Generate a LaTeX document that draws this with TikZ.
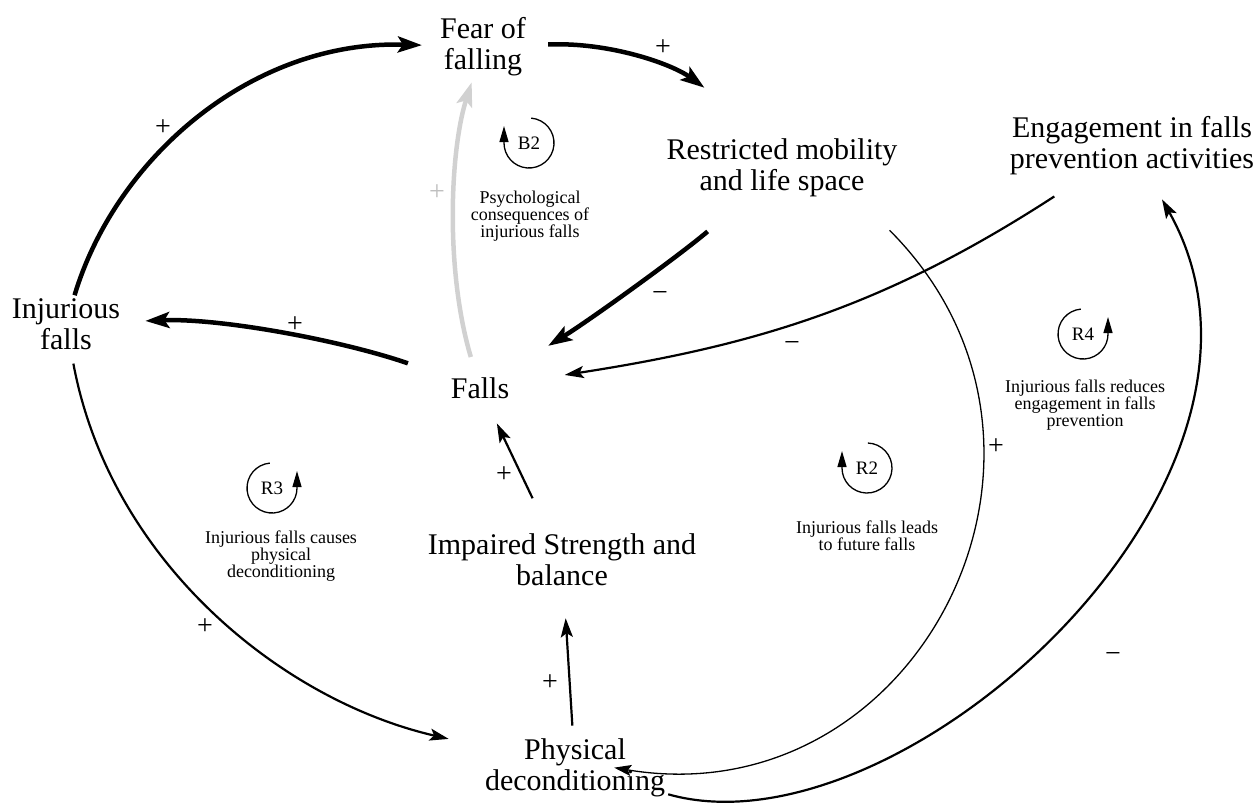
\documentclass[tikz,border=0pt]{standalone}
\usepackage{fontspec}
\setmainfont{Liberation Serif}
\usetikzlibrary{arrows.meta}

\begin{document}
\begin{tikzpicture}[x=1pt, y=-1pt,
    var/.style={align=center, inner sep=3pt, font=\fontsize{30}{31}\selectfont},
    note/.style={align=center, inner sep=1pt, font=\fontsize{18}{17}\selectfont},
    sign/.style={inner sep=0pt, font=\fontsize{28}{28}\selectfont},
    loopid/.style={inner sep=0pt, font=\fontsize{19}{19}\selectfont},
    strong/.style={line width=4.5pt, -{Stealth[length=24pt, width=16pt, inset=5pt]}},
    plain/.style={line width=2.2pt, -{Stealth[length=19pt, width=12pt, inset=4pt]}},
    faint/.style={line width=1.3pt, -{Stealth[length=17pt, width=11pt, inset=3pt]}},
    loopline/.style={line width=1.3pt, -{Triangle[length=16pt, width=9pt]}}]
    \useasboundingbox (0,0) rectangle (1257,807);

    \node[var] (1) at (483,47) {Fear of\\falling};
    \node[var] (2) at (782,168) {Restricted mobility\\and life space};
    \node[var] (3) at (1132,146) {Engagement in falls\\prevention activities};
    \node[var] (4) at (66,324) {Injurious\\falls};
    \node[var] (5) at (480,388) {Falls};
    \node[var] (6) at (562,560) {Impaired Strength and\\balance};
    \node[var] (7) at (575,768) {Physical\\deconditioning};

    % loop markers
    \foreach \n/\x/\y/\a/\b in {B2/529/143/85/-180, R3/272/488/95/360, R2/867/468/88/-180, R4/1083/334/95/360} {
        \node[loopid] (\n) at (\x,\y) {\n};
        \draw[loopline] ([shift={(\a:25pt)}]\n.center) arc[start angle=\a, end angle=\b, radius=25pt] -- ++(0,-17);
    }
    \node[note] (nB2) at (530,216) {Psychological\\consequences of\\injurious falls};
    \node[note] (nR3) at (281,556) {Injurious falls causes\\physical\\deconditioning};
    \node[note] (nR2) at (867,536) {Injurious falls leads\\to future falls};
    \node[note] (nR4) at (1085,405) {Injurious falls reduces\\engagement in falls\\prevention};

    \draw[strong, shorten >=15pt] (4) .. controls (115,160) and (250,40) .. (1);
    \draw[strong, shorten <=19pt] (1) .. controls (610,42) and (672,64) .. ([shift={(41,-48)}]2.north west);
    \draw[strong, draw=black!18, shorten <=18pt, shorten >=3pt] (5) .. controls (445,270) and (450,150) .. (1);
    \draw[strong, shorten <=48pt, shorten >=54pt] (2) .. controls (680,255) and (590,320) .. (5);
    \draw[strong, shorten <=42pt, shorten >=22pt] (5) .. controls (340,340) and (220,318) .. (4);
    \draw[plain, shorten <=33pt, shorten >=53pt] (3) .. controls (887,305) and (759,345) .. (5);
    \draw[plain, shorten <=36pt, shorten >=24pt] (6) -- (5);
    \draw[plain, shorten <=10pt, shorten >=29pt] (7) -- (6);
    \draw[plain, shorten <=11pt, shorten >=34pt] (4) .. controls (110,560) and (280,700) .. (7);
    \draw[faint] ([shift={(-11,30)}]2.south east) .. controls (1107,448) and (919,818) .. ([shift={(-54,32)}]7.north east);
    \draw[plain, shorten >=24pt] (7) .. controls (900,860) and (1320,480) .. (3);

    \node[sign] (p1) at (163,128) {+};
    \node[sign] (p2) at (663,48) {+};
    \node[sign, black!25] (p3) at (437,193) {+};
    \node[sign] (m1) at (660,296) {−};
    \node[sign] (p4) at (295,325) {+};
    \node[sign] (m2) at (792,346) {−};
    \node[sign] (p5) at (504,475) {+};
    \node[sign] (p6) at (550,683) {+};
    \node[sign] (p7) at (205,627) {+};
    \node[sign] (p8) at (996,447) {+};
    \node[sign] (m3) at (1113,657) {−};
\end{tikzpicture}
\end{document}
